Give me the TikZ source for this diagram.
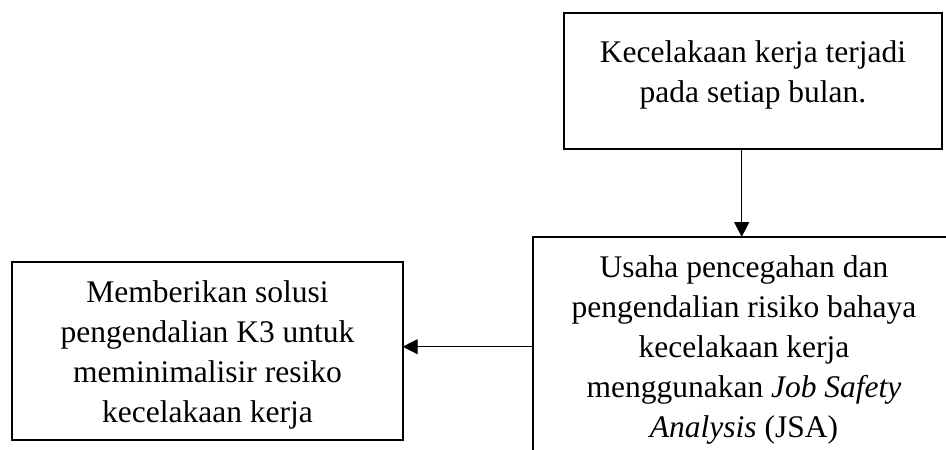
\documentclass[tikz,border=0pt]{standalone}
\usepackage{fontspec}
\setmainfont{Liberation Serif}
\usetikzlibrary{arrows.meta}
\begin{document}
\begin{tikzpicture}[x=1pt,y=-1pt,
  box/.style={draw, line width=2.2pt, inner sep=0pt, outer sep=0pt},
  txt/.style={align=center, anchor=base, inner sep=0pt, font=\fontsize{31.5}{40}\selectfont},
  arr/.style={line width=1.3pt, -{Triangle[length=15pt,width=15pt]}}]
\useasboundingbox (0,0) rectangle (946,450);
\clip (0,0) rectangle (946,450);
\node[box, minimum width=378pt, minimum height=136pt] (top) at (753,81) {};
\node[box, minimum width=424pt, minimum height=250pt] (right) at (745,362) {};
\node[box, minimum width=390.4pt, minimum height=178pt] (left) at (207.5,351) {};
\node[txt] (toptxt) at (753,102) {Kecelakaan kerja terjadi\\pada setiap bulan.};
\node[txt] (righttxt) at (744,437) {Usaha pencegahan dan\\pengendalian risiko bahaya\\kecelakaan kerja\\menggunakan \textit{Job Safety}\\\textit{Analysis} (JSA)};
\node[txt] (lefttxt) at (207.5,422) {Memberikan solusi\\pengendalian K3 untuk\\meminimalisir resiko\\kecelakaan kerja};
\coordinate (ax) at (741.7,0);
\coordinate (ay) at (0,346.7);
\draw[arr] (ax |- top.south) -- (ax |- right.north);
\draw[arr] (right.west |- ay) -- (left.east |- ay);
\end{tikzpicture}
\end{document}
